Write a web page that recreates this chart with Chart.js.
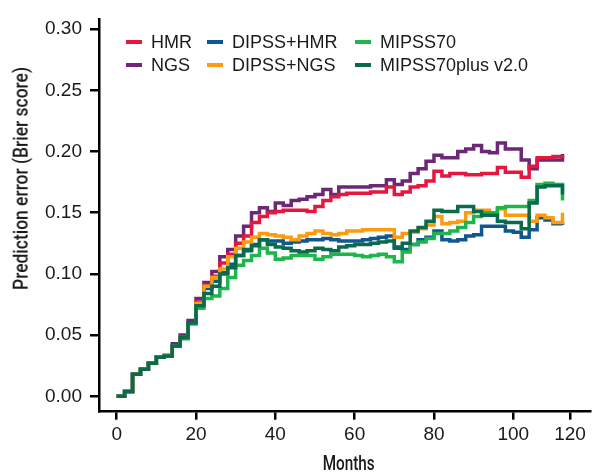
<!DOCTYPE html>
<html><head><meta charset="utf-8">
<script src="https://cdn.jsdelivr.net/npm/chart.js@4.4.1/dist/chart.umd.min.js"></script>
<style>
html,body{margin:0;padding:0;background:#fff;}
#wrap{position:relative;width:595px;height:475px;overflow:hidden;background:#fff;}
canvas{position:absolute;left:0;top:0;}
.leg{position:absolute;display:flex;align-items:center;font:18px "Liberation Sans",Arial,sans-serif;color:#1a1a1a;white-space:nowrap;height:22px;line-height:22px;}
.leg i{display:inline-block;width:16px;height:4px;margin-right:9px;}
.ttl{position:absolute;font:500 21px Roboto,sans-serif;color:#1a1a1a;white-space:nowrap;line-height:1;left:0;top:0;transform-origin:50% 50%;}
</style></head><body>
<div id="wrap">
<canvas id="c" width="595" height="475"></canvas>
<div class="ttl" id="xt">Months</div>
<div class="ttl" id="yt">Prediction error (Brier score)</div>
</div>
<script>
// months at which each step value starts (value holds until next month)
const months = [0,2,4,6,8,10,12,14,16,18,20,22,24,26,28,30,32,34,36,38,40,42,44,46,48,50,52,54,56,58,60,62,64,66,68,70,72,74,76,78,80,82,84,86,88,90,92,94,96,98,100,102,104,106,108,110,112.4];

const hmr = [0,0.004,0.018,0.022,0.027,0.032,0.033,0.041,0.048,0.060,
 0.077,0.091,0.098,0.109,0.116,0.125,0.131,0.142,0.147,0.150,
 0.151,0.152,0.152,0.152,0.151,0.155,0.160,0.163,0.165,0.166,
 0.166,0.166,0.167,0.167,0.171,0.165,0.167,0.171,0.172,0.176,
 0.184,0.180,0.182,0.182,0.181,0.181,0.182,0.182,0.187,0.183,
 0.183,0.179,0.188,0.195,0.195,0.196,0.197];
const ngs = [0,0.004,0.018,0.022,0.027,0.032,0.033,0.043,0.050,0.062,
 0.080,0.093,0.102,0.114,0.120,0.131,0.139,0.150,0.154,0.151,
 0.158,0.156,0.160,0.161,0.163,0.165,0.169,0.165,0.171,0.171,
 0.171,0.171,0.172,0.172,0.177,0.173,0.176,0.182,0.186,0.192,
 0.197,0.195,0.195,0.200,0.202,0.205,0.200,0.199,0.207,0.202,
 0.202,0.193,0.186,0.193,0.193,0.193,0.198];
const dipssHmr = [0,0.004,0.018,0.022,0.027,0.032,0.033,0.041,0.048,0.060,
 0.075,0.088,0.094,0.101,0.108,0.115,0.119,0.124,0.128,0.127,
 0.127,0.125,0.126,0.127,0.128,0.128,0.129,0.128,0.127,0.127,
 0.127,0.128,0.129,0.130,0.131,0.122,0.120,0.124,0.128,0.130,
 0.135,0.128,0.127,0.128,0.131,0.132,0.139,0.139,0.139,0.135,
 0.134,0.130,0.136,0.146,0.144,0.141,0.140];
const dipssNgs = [0,0.004,0.018,0.022,0.027,0.032,0.034,0.041,0.048,0.060,
 0.076,0.090,0.097,0.104,0.114,0.121,0.126,0.130,0.133,0.132,
 0.131,0.130,0.128,0.131,0.133,0.135,0.133,0.132,0.133,0.135,
 0.135,0.136,0.136,0.136,0.136,0.130,0.133,0.134,0.137,0.140,
 0.147,0.141,0.142,0.143,0.150,0.152,0.152,0.148,0.153,0.148,
 0.148,0.148,0.143,0.148,0.146,0.142,0.150];
const mipss70 = [0,0.004,0.018,0.022,0.027,0.032,0.033,0.041,0.047,0.059,
 0.072,0.080,0.082,0.088,0.097,0.107,0.111,0.115,0.121,0.117,
 0.112,0.113,0.115,0.115,0.115,0.112,0.114,0.116,0.116,0.116,
 0.115,0.114,0.115,0.116,0.114,0.110,0.118,0.124,0.126,0.129,
 0.133,0.133,0.135,0.138,0.142,0.147,0.150,0.150,0.154,0.155,
 0.155,0.155,0.160,0.173,0.174,0.173,0.160];
const mipss70plus = [0,0.004,0.018,0.022,0.027,0.032,0.033,0.041,0.048,0.060,
 0.074,0.084,0.090,0.100,0.105,0.115,0.120,0.123,0.128,0.124,
 0.122,0.121,0.119,0.118,0.119,0.121,0.120,0.119,0.122,0.123,
 0.124,0.124,0.125,0.126,0.127,0.121,0.125,0.135,0.138,0.143,
 0.152,0.151,0.151,0.155,0.155,0.151,0.148,0.148,0.143,0.142,
 0.142,0.137,0.158,0.171,0.172,0.172,0.165];

const seriesNames = ['HMR','NGS','DIPSS+HMR','DIPSS+NGS','MIPSS70','MIPSS70plus v2.0'];
const seriesColors = ['#e5173f','#6c2777','#10568f','#fc9a10','#1eb64b','#0a6a4c'];
const seriesValues = [hmr, ngs, dipssHmr, dipssNgs, mipss70, mipss70plus];

const yTickValues = [0,0.05,0.10,0.15,0.20,0.25,0.30];
const xTickValues = [0,20,40,60,80,100,114.3];
const xTickLabels = ['0','20','40','60','80','100','120'];

// legend layout: [series index, left, top]
const legendSlots = [[0,126,30.5],[2,207,30.5],[4,355,30.5],[1,126,54],[3,207,54],[5,355,54]];

const wrap = document.getElementById('wrap');
legendSlots.forEach(([i,l,t])=>{
  const d = document.createElement('div');
  d.className='leg'; d.style.left=l+'px'; d.style.top=t+'px';
  const m = document.createElement('i'); m.style.background = seriesColors[i];
  d.appendChild(m); d.appendChild(document.createTextNode(seriesNames[i]));
  wrap.appendChild(d);
});

function placeTitle(id, cx, cy, targetLen, rot){
  const el = document.getElementById(id);
  const w = el.getBoundingClientRect().width, h = el.getBoundingClientRect().height;
  const s = targetLen / w;
  el.style.left = (cx - w/2)+'px'; el.style.top = (cy - h/2)+'px';
  el.style.transform = (rot ? 'rotate(-90deg) ' : '') + 'scaleX('+s+')';
}
placeTitle('xt', 349, 463, 52, false);
placeTitle('yt', 21, 178.5, 223, true);

// draw order: first dataset on top
const drawOrder = [5,4,3,2,0,1];
const datasets = drawOrder.map(i=>({
  label: seriesNames[i],
  data: months.map((m,k)=>({x:m, y:seriesValues[i][k]})),
  borderColor: seriesColors[i],
  backgroundColor: seriesColors[i],
  borderWidth: 3.5,
  stepped: true,
  pointRadius: 0,
  fill: false,
  borderJoinStyle: 'miter',
  borderCapStyle: 'butt'
}));

const tickFont = {family:'"Liberation Sans", Arial, sans-serif', size:19};
new Chart(document.getElementById('c'), {
  type:'line',
  data:{datasets},
  options:{
    responsive:false, animation:false, devicePixelRatio:1,
    layout:{padding:{left:0,right:5,top:13,bottom:0}},
    plugins:{legend:{display:false}, tooltip:{enabled:false}},
    scales:{
      x:{
        type:'linear', min:-4.46, max:119.34,
        afterBuildTicks:(s)=>{ s.ticks = xTickValues.map(v=>({value:v})); },
        afterFit:(s)=>{ s.height = 63.3; },
        ticks:{callback:(v,i)=>xTickLabels[i], autoSkip:false, maxRotation:0, minRotation:0, font:tickFont, color:'#1a1a1a', padding:4},
        grid:{display:true, drawOnChartArea:false, drawTicks:true, tickLength:8, color:'#000', lineWidth:2.5},
        border:{display:true, color:'#000', width:2.5}
      },
      y:{
        type:'linear', min:-0.0126, max:0.308,
        afterBuildTicks:(s)=>{ s.ticks = yTickValues.map(v=>({value:v})); },
        afterFit:(s)=>{ s.width = 99; },
        ticks:{callback:(v)=>Number(v).toFixed(2), autoSkip:false, font:tickFont, color:'#1a1a1a', padding:8},
        grid:{display:true, drawOnChartArea:false, drawTicks:true, tickLength:9, color:'#000', lineWidth:2.5},
        border:{display:true, color:'#000', width:2.5}
      }
    }
  }
});
</script>
</body></html>
